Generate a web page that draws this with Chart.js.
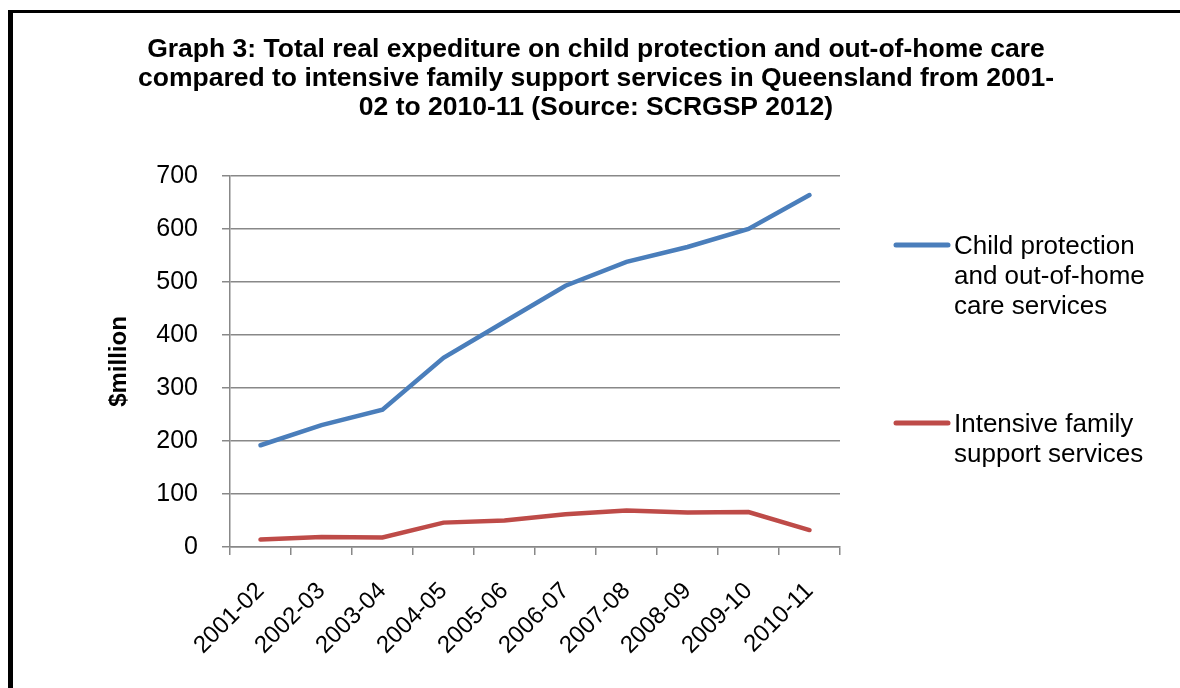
<!DOCTYPE html>
<html lang="en">
<head>
<meta charset="UTF-8">
<title>Graph 3</title>
<script src="https://cdn.jsdelivr.net/npm/chart.js"></script>
<style>
  body { margin: 0; background: #fff; }
  #wrap { width: 1180px; height: 688px; }
</style>
</head>
<body>
<div id="wrap"><canvas id="graph3" width="1180" height="688"></canvas></div>
<script>
const categories = ['2001-02', '2002-03', '2003-04', '2004-05', '2005-06', '2006-07', '2007-08', '2008-09', '2009-10', '2010-11'];
const childProtection = [192, 230, 259, 357, 425, 493, 538, 566, 600, 664];
const familySupport = [14, 19, 18, 46, 50, 62, 69, 65, 66, 32];
const yMax = 700;
const yStep = 100;

const titleLines = [
  'Graph 3: Total real expediture on child protection and out-of-home care',
  'compared to intensive family support services in Queensland from 2001-',
  '02 to 2010-11 (Source: SCRGSP 2012)'
];
const legendLines = [
  ['Child protection', 'and out-of-home', 'care services'],
  ['Intensive family', 'support services']
];

const FONT = "'Liberation Sans', Arial, sans-serif";
const gridGrey = '#888888';

// frame, title and the wrapped legend are drawn by hand
const decorations = {
  id: 'decorations',
  beforeDraw(chart) {
    const ctx = chart.ctx;
    ctx.save();
    ctx.fillStyle = '#fff';
    ctx.fillRect(0, 0, chart.width, chart.height);
    ctx.fillStyle = '#000';
    ctx.fillRect(8, 10, 5, chart.height);
    ctx.fillRect(8, 10, chart.width, 3);
    ctx.restore();
  },
  afterDraw(chart) {
    const ctx = chart.ctx;
    ctx.save();
    ctx.fillStyle = '#000';
    ctx.textAlign = 'center';
    ctx.textBaseline = 'alphabetic';
    ctx.font = 'bold 26.5px ' + FONT;
    titleLines.forEach((line, i) => ctx.fillText(line, 596, 57 + i * 29));

    ctx.textBaseline = 'middle';
    const legendY = [245, 423];
    chart.data.datasets.forEach((ds, i) => {
      ctx.strokeStyle = ds.borderColor;
      ctx.lineWidth = 5;
      ctx.lineCap = 'round';
      ctx.beginPath();
      ctx.moveTo(896, legendY[i]);
      ctx.lineTo(948, legendY[i]);
      ctx.stroke();
      ctx.fillStyle = '#000';
      ctx.textAlign = 'left';
      ctx.font = '26px ' + FONT;
      legendLines[i].forEach((line, j) => ctx.fillText(line, 954, legendY[i] + 2 + j * 30));
    });
    ctx.restore();
  }
};

new Chart(document.getElementById('graph3').getContext('2d'), {
  type: 'line',
  data: {
    labels: categories,
    datasets: [{
      label: legendLines[0].join(' '),
      data: childProtection,
      borderColor: '#4a7ebb',
      borderWidth: 4.5,
      pointRadius: 0,
      borderCapStyle: 'round',
      tension: 0
    }, {
      label: legendLines[1].join(' '),
      data: familySupport,
      borderColor: '#be4b48',
      borderWidth: 4.5,
      pointRadius: 0,
      borderCapStyle: 'round',
      tension: 0
    }]
  },
  options: {
    responsive: false,
    animation: false,
    layout: { padding: { top: 176, left: 96, right: 340, bottom: 0 } },
    plugins: {
      legend: { display: false },
      title: { display: false },
      tooltip: { enabled: false }
    },
    scales: {
      x: {
        offset: true,
        grid: { offset: true, drawOnChartArea: false, color: gridGrey, lineWidth: 1.5, tickLength: 8 },
        border: { color: gridGrey, width: 1.5 },
        ticks: {
          color: '#000',
          font: { family: FONT, size: 24 },
          minRotation: 45,
          maxRotation: 45,
          padding: 22,
          autoSkip: false
        },
        afterFit(scale) { scale.height = 141; }
      },
      y: {
        min: 0,
        max: yMax,
        grid: { color: gridGrey, lineWidth: 1.5, tickLength: 8 },
        border: { color: gridGrey, width: 1.5 },
        ticks: {
          stepSize: yStep,
          color: '#000',
          font: { family: FONT, size: 25 },
          padding: 24
        },
        title: {
          display: true,
          text: '$million',
          color: '#000',
          font: { family: FONT, size: 24, weight: 'bold' },
          padding: { top: 9, bottom: 0 }
        },
        afterFit(scale) { scale.width = 134; }
      }
    }
  },
  plugins: [decorations]
});
</script>
</body>
</html>
